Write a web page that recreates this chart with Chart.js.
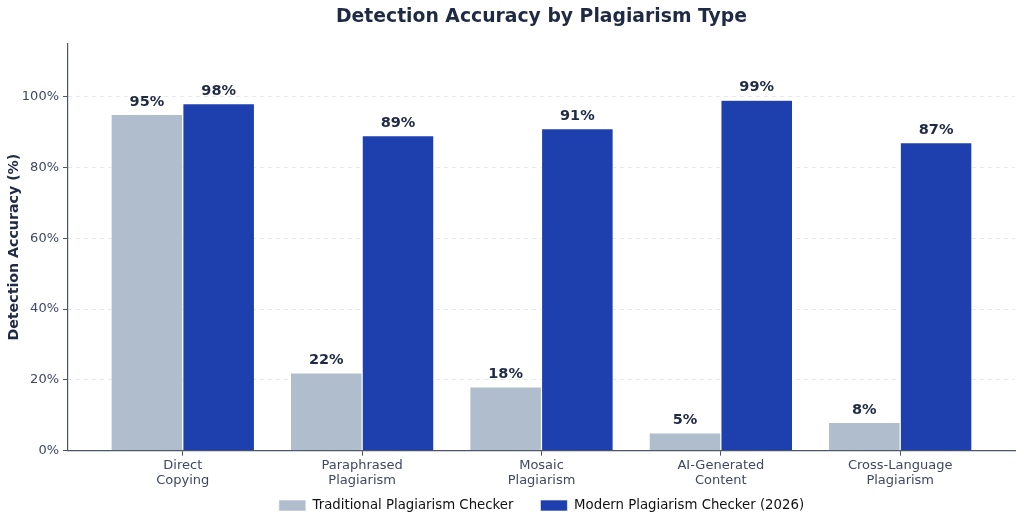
<!DOCTYPE html>
<html>
<head>
<meta charset="utf-8">
<script src="https://cdn.jsdelivr.net/npm/chart.js@4.4.1/dist/chart.umd.min.js"></script>
<style>
  body { margin: 0; background: #ffffff; }
  #wrap { width: 1024px; height: 525px; }
</style>
</head>
<body>
<div id="wrap"><canvas id="chart" width="1024" height="525"></canvas></div>
<script>
// datos
const categories = [
    ["Direct", "Copying"],
    ["Paraphrased", "Plagiarism"],
    ["Mosaic", "Plagiarism"],
    ["AI-Generated", "Content"],
    ["Cross-Language", "Plagiarism"]
];
const traditionalValues = [95, 22, 18, 5, 8];
const modernValues = [98, 89, 91, 99, 87];
const yTicks = [0, 20, 40, 60, 80, 100];

const textColor = '#1f2a44';
const tickColor = '#3d4863';
const axisColor = '#4a5568';
const legendPadding = 27;
const legendFont = 13.3;

// etiquetas de valor encima de las barras
const valueLabels = {
    id: 'valueLabels',
    afterDatasetsDraw(chart) {
        const ctx = chart.ctx;
        ctx.save();
        ctx.font = 'bold 14.5px "DejaVu Sans"';
        ctx.fillStyle = textColor;
        ctx.textAlign = 'center';
        ctx.textBaseline = 'middle';
        chart.data.datasets.forEach((ds, i) => {
            chart.getDatasetMeta(i).data.forEach((bar, j) => {
                ctx.fillText(ds.data[j].y + '%', bar.x, bar.y - 12.5);
            });
        });
        ctx.restore();
    }
};

// centrar titulo y leyenda sobre el area del grafico
const centerBlocks = {
    id: 'centerBlocks',
    afterLayout(chart) {
        const area = chart.chartArea;
        chart.titleBlock.left = area.left;
        chart.titleBlock.right = area.right;
        const lg = chart.legend;
        const h = lg.bottom - lg.top;
        lg.left = area.left;
        lg.right = area.right;
        lg.top = 505.5 - legendPadding - legendFont / 2;
        lg.bottom = lg.top + h;
    }
};

const ctx = document.getElementById('chart').getContext('2d');
const chart = new Chart(ctx, {
    type: 'bar',
    data: {
        datasets: [{
            label: 'Traditional Plagiarism Checker',
            data: traditionalValues.map((v, i) => ({ x: i, y: v })),
            backgroundColor: '#b0bdcd',
            borderColor: '#ffffff',
            borderWidth: 0.6
        }, {
            label: 'Modern Plagiarism Checker (2026)',
            data: modernValues.map((v, i) => ({ x: i, y: v })),
            backgroundColor: '#1e40af',
            borderColor: '#ffffff',
            borderWidth: 0.6
        }]
    },
    options: {
        responsive: false,
        animation: false,
        categoryPercentage: 0.8,
        barPercentage: 1.0,
        layout: { padding: { left: 0, right: 9, top: 0, bottom: -14 } },
        plugins: {
            title: {
                display: true,
                text: 'Detection Accuracy by Plagiarism Type',
                color: textColor,
                font: { family: 'DejaVu Sans', size: 18.8, weight: 'bold' },
                padding: { top: 6, bottom: 15 }
            },
            legend: {
                position: 'bottom',
                labels: {
                    color: '#111111',
                    font: { family: 'DejaVu Sans', size: legendFont },
                    boxWidth: 27,
                    boxHeight: 11,
                    padding: legendPadding
                }
            },
            tooltip: { enabled: false }
        },
        scales: {
            x: {
                type: 'linear',
                min: -0.64,
                max: 4.64,
                offset: false,
                afterBuildTicks: scale => {
                    scale.ticks = categories.map((c, i) => ({ value: i }));
                },
                afterFit: scale => { scale.height = 38; },
                ticks: {
                    color: tickColor,
                    font: { family: 'DejaVu Sans', size: 13, lineHeight: 1.1 },
                    padding: 3,
                    maxRotation: 0,
                    autoSkip: false,
                    callback: value => categories[value]
                },
                grid: {
                    display: true,
                    offset: false,
                    drawOnChartArea: false,
                    drawTicks: true,
                    tickLength: 5,
                    color: axisColor
                },
                border: { display: true, color: axisColor, width: 1.2 }
            },
            y: {
                min: 0,
                max: 115,
                afterBuildTicks: scale => {
                    scale.ticks = yTicks.map(v => ({ value: v }));
                },
                afterFit: scale => { scale.width = 68; },
                ticks: {
                    color: tickColor,
                    font: { family: 'DejaVu Sans', size: 13 },
                    padding: 4,
                    callback: value => value + '%'
                },
                grid: {
                    color: '#e6e8ec',
                    drawTicks: true,
                    tickLength: 5,
                    tickColor: axisColor
                },
                border: { display: true, color: axisColor, width: 1.2, dash: [4, 4] },
                title: {
                    display: true,
                    text: 'Detection Accuracy (%)',
                    color: textColor,
                    font: { family: 'DejaVu Sans', size: 14.2, weight: 'bold' },
                    padding: { top: 6, bottom: 6 }
                }
            }
        }
    },
    plugins: [valueLabels, centerBlocks]
});
</script>
</body>
</html>
